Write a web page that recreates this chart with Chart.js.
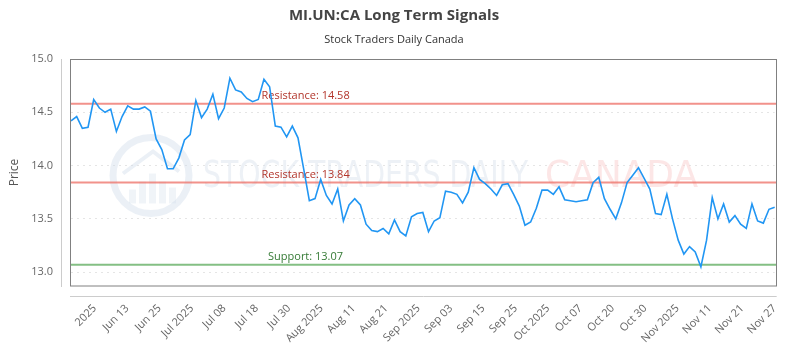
<!DOCTYPE html>
<html>
<head>
<meta charset="utf-8">
<script src="https://cdn.jsdelivr.net/npm/chart.js@4.4.1/dist/chart.umd.min.js"></script>
<style>
  html, body { margin: 0; padding: 0; background: #ffffff; }
  #wrap { width: 800px; height: 350px; position: relative; }
</style>
</head>
<body>
<div id="wrap"><canvas id="c"></canvas></div>
<script>
// ---------- data ----------
const dates = [
  '2025-06-02','2025-06-03','2025-06-04','2025-06-05','2025-06-06','2025-06-09','2025-06-10','2025-06-11','2025-06-12','2025-06-13',
  '2025-06-16','2025-06-17','2025-06-18','2025-06-19','2025-06-20','2025-06-23','2025-06-24','2025-06-25','2025-06-26','2025-06-27',
  '2025-06-30','2025-07-02','2025-07-03','2025-07-04','2025-07-07','2025-07-08','2025-07-09','2025-07-10','2025-07-11','2025-07-14',
  '2025-07-15','2025-07-16','2025-07-17','2025-07-18','2025-07-21','2025-07-22','2025-07-23','2025-07-24','2025-07-25','2025-07-28',
  '2025-07-29','2025-07-30','2025-07-31','2025-08-01','2025-08-05','2025-08-06','2025-08-07','2025-08-08','2025-08-11','2025-08-12',
  '2025-08-13','2025-08-14','2025-08-15','2025-08-18','2025-08-19','2025-08-20','2025-08-21','2025-08-22','2025-08-25','2025-08-26',
  '2025-08-27','2025-08-28','2025-08-29','2025-09-02','2025-09-03','2025-09-04','2025-09-05','2025-09-08','2025-09-09','2025-09-10',
  '2025-09-11','2025-09-12','2025-09-15','2025-09-16','2025-09-17','2025-09-18','2025-09-19','2025-09-22','2025-09-23','2025-09-24',
  '2025-09-25','2025-09-26','2025-09-29','2025-09-30','2025-10-01','2025-10-02','2025-10-03','2025-10-06','2025-10-07','2025-10-08',
  '2025-10-09','2025-10-10','2025-10-14','2025-10-15','2025-10-16','2025-10-17','2025-10-20','2025-10-21','2025-10-22','2025-10-23',
  '2025-10-24','2025-10-27','2025-10-28','2025-10-29','2025-10-30','2025-10-31','2025-11-03','2025-11-04','2025-11-05','2025-11-06',
  '2025-11-07','2025-11-10','2025-11-11','2025-11-12','2025-11-13','2025-11-14','2025-11-17','2025-11-18','2025-11-19','2025-11-20',
  '2025-11-21','2025-11-24','2025-11-25','2025-11-26','2025-11-27'
];

const prices = [
  14.42, 14.46, 14.35, 14.36, 14.62, 14.54, 14.50, 14.53, 14.32, 14.46,
  14.56, 14.53, 14.53, 14.55, 14.51, 14.25, 14.15, 13.97, 13.97, 14.07,
  14.24, 14.29, 14.61, 14.45, 14.53, 14.67, 14.44, 14.54, 14.82, 14.71,
  14.69, 14.63, 14.60, 14.62, 14.81, 14.74, 14.37, 14.36, 14.27, 14.37,
  14.26, 13.97, 13.67, 13.69, 13.87, 13.72, 13.64, 13.78, 13.48, 13.63,
  13.69, 13.63, 13.45, 13.39, 13.38, 13.41, 13.36, 13.49, 13.38, 13.34,
  13.52, 13.55, 13.56, 13.38, 13.48, 13.51, 13.76, 13.75, 13.73, 13.65,
  13.75, 13.98, 13.87, 13.83, 13.78, 13.72, 13.82, 13.83, 13.73, 13.62,
  13.44, 13.47, 13.60, 13.77, 13.77, 13.73, 13.80, 13.68, 13.67, 13.66,
  13.67, 13.68, 13.84, 13.89, 13.69, 13.59, 13.50, 13.65, 13.84, 13.91,
  13.98, 13.88, 13.78, 13.55, 13.54, 13.73, 13.50, 13.30, 13.17, 13.24,
  13.19, 13.05, 13.30, 13.70, 13.50, 13.64, 13.47, 13.53, 13.45, 13.41,
  13.64, 13.48, 13.46, 13.59, 13.61
];

const xTickLabels = [
  '2025','Jun 13','Jun 25','Jul 2025','Jul 08','Jul 18','Jul 30','Aug 2025','Aug 11','Aug 21',
  'Sep 2025','Sep 03','Sep 15','Sep 25','Oct 2025','Oct 07','Oct 20','Oct 30','Nov 2025','Nov 11',
  'Nov 21','Nov 27'
];

const levelNames  = ['Resistance', 'Resistance', 'Support'];
const levelValues = [14.58, 13.84, 13.07];

const titleText = 'MI.UN:CA Long Term Signals';
const subtitleText = 'Stock Traders Daily Canada';
const yTitle = 'Price';
const watermarkWords = ['STOCK TRADERS DAILY', 'CANADA'];

// ---------- style ----------
const FONT = '"Open Sans", "DejaVu Sans", sans-serif';
const levelStyle = {
  Resistance: { line: 'rgba(238, 110, 100, 0.75)', text: '#b2352b' },
  Support:    { line: 'rgba(110, 180, 110, 0.85)', text: '#357a35' }
};
const TICK_FIRST = 4.2;                      // first tick, in data-index units
const TICK_LAST = prices.length - 1;         // last tick sits on last point

const decorPlugin = {
  id: 'decor',
  beforeDatasetsDraw(chart) {
    const { ctx, chartArea: a, scales } = chart;
    const y = scales.y;
    ctx.save();

    // watermark logo
    const cx = a.left + 80, cy = (a.top + a.bottom) / 2 + 3;
    ctx.strokeStyle = 'rgba(205, 218, 232, 0.4)';
    ctx.lineWidth = 7;
    ctx.beginPath(); ctx.arc(cx, cy, 38, 0, Math.PI * 2); ctx.stroke();
    ctx.fillStyle = 'rgba(205, 218, 232, 0.3)';
    const bars = [[-22, 14], [-12, 22], [-2, 30], [8, 22], [18, 16]];
    bars.forEach(([dx, h]) => ctx.fillRect(cx + dx, cy + 28 - h, 7, h));
    ctx.strokeStyle = 'rgba(205, 218, 232, 0.4)';
    ctx.lineWidth = 4;
    ctx.beginPath(); ctx.moveTo(cx - 28, cy - 2); ctx.lineTo(cx + 2, cy - 24); ctx.lineTo(cx + 28, cy - 4); ctx.stroke();

    // watermark text
    ctx.font = '38px "DejaVu Sans", sans-serif';
    ctx.textBaseline = 'middle';
    ctx.textAlign = 'left';
    const drawFit = (txt, x0, width, color) => {
      const w = ctx.measureText(txt).width;
      ctx.save();
      ctx.translate(x0, cy + 2);
      ctx.scale(width / w, 1);
      ctx.fillStyle = color;
      ctx.fillText(txt, 0, 0);
      ctx.restore();
    };
    drawFit(watermarkWords[0], a.left + 132, 325, 'rgba(215, 224, 234, 0.45)');
    drawFit(watermarkWords[1], a.left + 474, 153, 'rgba(250, 205, 205, 0.5)');

    // support / resistance lines and labels
    ctx.font = '11px ' + FONT;
    ctx.textAlign = 'center';
    ctx.textBaseline = 'bottom';
    levelValues.forEach((v, i) => {
      const st = levelStyle[levelNames[i]];
      const py = y.getPixelForValue(v);
      ctx.strokeStyle = st.line;
      ctx.lineWidth = 2;
      ctx.beginPath(); ctx.moveTo(a.left, py); ctx.lineTo(a.right + 2, py); ctx.stroke();
      ctx.fillStyle = st.text;
      ctx.fillText(levelNames[i] + ': ' + v.toFixed(2), a.left + a.width / 3, py - 2);
    });
    ctx.restore();
  },
  afterDatasetsDraw(chart) {
    const { ctx, chartArea: a } = chart;
    ctx.save();
    ctx.lineWidth = 1;
    ctx.strokeStyle = '#808080';
    ctx.strokeRect(Math.round(a.left) - 0.5, Math.round(a.top) + 0.5, Math.round(a.width) + 2, Math.round(a.height) - 0.5);
    ctx.strokeStyle = '#cccccc';
    ctx.beginPath();
    ctx.moveTo(Math.round(a.left) - 9.5, a.top); ctx.lineTo(Math.round(a.left) - 9.5, a.bottom + 1);
    ctx.moveTo(a.left - 1, Math.round(a.bottom) + 10.5); ctx.lineTo(a.right + 2, Math.round(a.bottom) + 10.5);
    ctx.stroke();
    ctx.restore();
  }
};

new Chart(document.getElementById('c'), {
  type: 'line',
  data: {
    labels: dates,
    datasets: [{
      label: 'MI.UN:CA',
      data: prices,
      borderColor: '#2196f3',
      borderWidth: 1.6,
      pointRadius: 0,
      tension: 0,
      fill: false,
      xAxisID: 'x',
      yAxisID: 'y'
    }]
  },
  options: {
    responsive: true,
    maintainAspectRatio: false,
    animation: false,
    layout: { padding: { left: 0, right: 12, top: 0, bottom: 0 } },
    plugins: {
      legend: { display: false },
      tooltip: { enabled: false },
      title: {
        display: true, text: titleText, color: '#444444',
        font: { family: FONT, size: 15, weight: 'bold' },
        padding: { top: 7, bottom: 4 }
      },
      subtitle: {
        display: true, text: subtitleText, color: '#333333',
        font: { family: FONT, size: 11 },
        padding: { top: 4, bottom: 12.8 }
      }
    },
    scales: {
      x: { type: 'category', display: false, offset: false },
      xt: {
        type: 'linear', position: 'bottom',
        min: 0, max: prices.length - 1,
        afterFit(s) { s.height = 64; },
        afterBuildTicks(s) {
          const n = xTickLabels.length;
          s.ticks = xTickLabels.map((_, j) => ({ value: TICK_FIRST + (TICK_LAST - TICK_FIRST) * j / (n - 1) }));
        },
        ticks: {
          autoSkip: false, maxRotation: 45, minRotation: 45,
          color: '#666666', font: { family: FONT, size: 11 }, padding: 16,
          callback(v, idx) { return xTickLabels[idx]; }
        },
        grid: { display: false, drawTicks: false },
        border: { display: false }
      },
      y: {
        type: 'linear', position: 'left',
        min: 12.87, max: 15.0,
        afterFit(s) { s.width = 71; },
        ticks: {
          stepSize: 0.5, includeBounds: false, padding: 18,
          color: '#666666', font: { family: FONT, size: 11 },
          callback(v) { return Number(v).toFixed(1); }
        },
        title: {
          display: true, text: yTitle, color: '#555555',
          font: { family: FONT, size: 12 }, padding: { top: 7, bottom: 0 }
        },
        grid: { color: 'rgba(0,0,0,0.10)', drawTicks: false },
        border: { display: false, dash: [2, 4] }
      }
    }
  },
  plugins: [decorPlugin]
});
</script>
</body>
</html>
